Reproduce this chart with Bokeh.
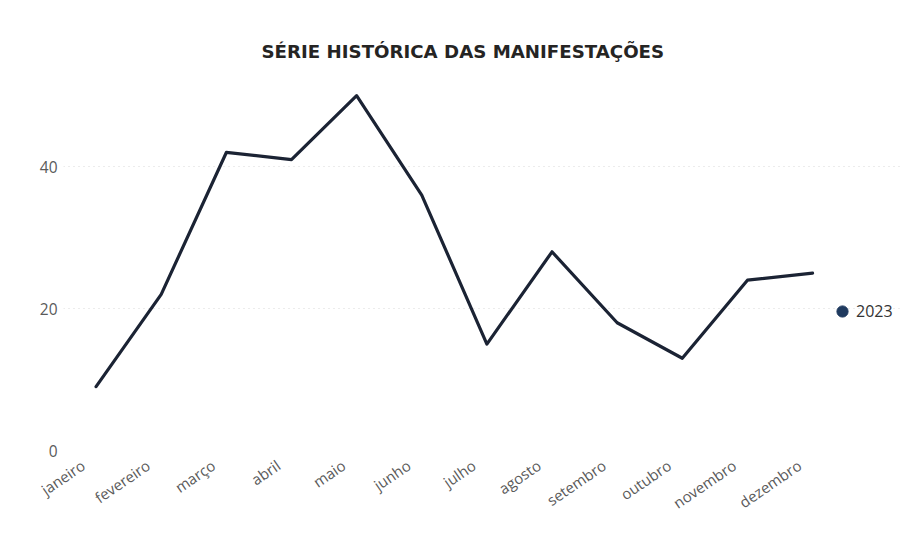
from bokeh.plotting import figure
from bokeh.models import (ColumnDataSource, FixedTicker, Range1d, Legend, LegendItem,
                          LinearAxis)
from bokeh.embed import file_html
from bokeh.resources import INLINE

months = ["janeiro", "fevereiro", "março", "abril", "maio", "junho",
          "julho", "agosto", "setembro", "outubro", "novembro", "dezembro"]
values_2023 = [9, 22, 42, 41, 50, 36, 15, 28, 18, 13, 24, 25]
y_ticks = [0, 20, 40]
series_name = "2023"

idx = list(range(len(months)))
src = ColumnDataSource(data=dict(x=idx, y=values_2023))

x0, x1 = -0.5, 12.35
label_shift = 0.2  # labels sit slightly left of their point, as in the reference

p = figure(width=906, height=536, output_backend="svg", toolbar_location=None,
           x_range=Range1d(x0, x1), y_range=Range1d(0, 52),
           min_border_left=63, min_border_right=6, min_border_bottom=86,
           min_border_top=81)
p.extra_x_ranges = {"lab": Range1d(x0 + label_shift, x1 + label_shift)}
p.outline_line_color = None
p.background_fill_color = "white"
p.border_fill_color = "white"

p.title.text = "SÉRIE HISTÓRICA DAS MANIFESTAÇÕES"
p.title.align = "left"
p.title.offset = 198
p.title.text_font = "DejaVu Sans"
p.title.text_font_style = "bold"
p.title.text_font_size = "18.2px"
p.title.text_color = "#252423"
p.title.standoff = 39

line_r = p.line("x", "y", source=src, line_color="#1b2334", line_width=3.2,
                line_join="round", line_cap="round")

dot_r = p.scatter("x", "y", source=src, size=11, marker="circle",
                  fill_color="#1f3a5f", line_color="#1f3a5f", visible=False)

p.xaxis.visible = False

lab_axis = LinearAxis(x_range_name="lab")
lab_axis.ticker = FixedTicker(ticks=idx)
lab_axis.major_label_overrides = {i: m for i, m in enumerate(months)}
lab_axis.major_label_orientation = 0.6
lab_axis.axis_line_color = None
lab_axis.major_tick_line_color = None
lab_axis.major_tick_out = 0
lab_axis.minor_tick_line_color = None
lab_axis.minor_tick_out = 0
lab_axis.major_label_text_font = "Open Sans"
lab_axis.major_label_text_font_size = "15px"
lab_axis.major_label_text_color = "#5a5a5a"
lab_axis.major_label_standoff = 13
p.add_layout(lab_axis, "below")

p.yaxis.ticker = FixedTicker(ticks=y_ticks)
p.yaxis.axis_line_color = None
p.yaxis.major_tick_line_color = None
p.yaxis.major_tick_out = 0
p.yaxis.minor_tick_line_color = None
p.yaxis.minor_tick_out = 0
p.yaxis.major_label_text_font = "Open Sans"
p.yaxis.major_label_text_font_size = "15.5px"
p.yaxis.major_label_text_color = "#5a5a5a"
p.yaxis.major_label_standoff = 6

p.xgrid.grid_line_color = None
p.ygrid.grid_line_color = "#d8d8d8"
p.ygrid.grid_line_dash = "1 4"
p.ygrid.grid_line_width = 1

legend = Legend(items=[LegendItem(label=series_name, renderers=[dot_r])],
                location=(765, 125), padding=0, margin=0, spacing=0,
                glyph_width=28, glyph_height=28, label_standoff=0,
                border_line_alpha=0, background_fill_alpha=0,
                label_text_font="Open Sans", label_text_font_size="16px",
                label_text_color="#333333")
p.add_layout(legend, "center")

open("out.html", "w").write(file_html(p, INLINE))
